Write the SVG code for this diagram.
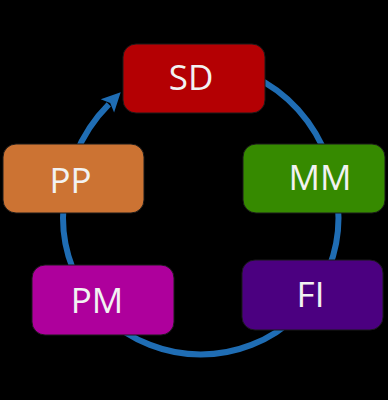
<svg xmlns="http://www.w3.org/2000/svg" width="388" height="400" viewBox="0 0 388 400">
  <style>
    .ring { fill: none; stroke: #1f6db4; stroke-width: 6; }
    .head { fill: #1f6db4; }
    .box { stroke: #1a1a1a; stroke-width: 1; }
    .lbl { font-family: "Open Sans", "Liberation Sans", sans-serif; font-size: 35px; fill: #f2f2f2; text-anchor: middle; }
  </style>
  <rect x="0" y="0" width="388" height="400" fill="#000000"/>
  <g id="connectors">
    <path class="ring" d="M 200.75 65 A 137.75 153 0 0 1 338.5 218 A 137.75 136.5 0 0 1 63 218 A 137.75 153 0 0 1 108.8 104.4"/>
    <polygon class="head" points="120.7,92.3 100.7,99.2 110.2,103 114.1,112.5"/>
  </g>
  <g id="SD">
    <rect class="box" x="123" y="44" width="142" height="69" rx="13" fill="#b40003"/>
    <text class="lbl" x="191" y="90">SD</text>
  </g>
  <g id="MM">
    <rect class="box" x="243" y="144" width="142" height="69" rx="13" fill="#368a00"/>
    <text class="lbl" x="320" y="190">MM</text>
  </g>
  <g id="FI">
    <rect class="box" x="242" y="260" width="141" height="70" rx="13" fill="#4b0080"/>
    <text class="lbl" x="310.5" y="307">FI</text>
  </g>
  <g id="PM">
    <rect class="box" x="32" y="265" width="142" height="70" rx="13" fill="#ae009c"/>
    <text class="lbl" x="97" y="312.5">PM</text>
  </g>
  <g id="PP">
    <rect class="box" x="3" y="144" width="141" height="69" rx="13" fill="#cc7333"/>
    <text class="lbl" x="70.5" y="192.5">PP</text>
  </g>
</svg>
